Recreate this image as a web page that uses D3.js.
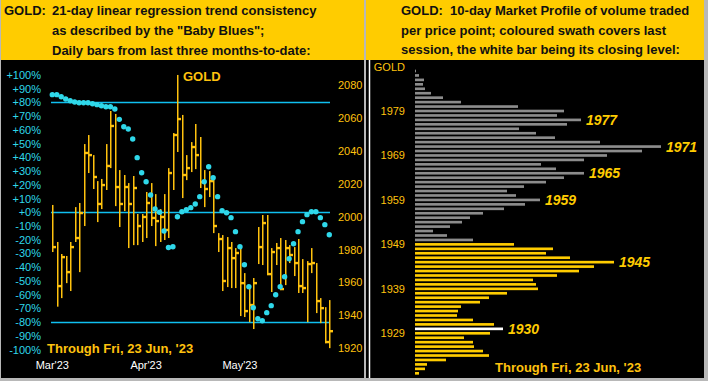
<!DOCTYPE html>
<html>
<head>
<meta charset="utf-8">
<script src="https://cdn.jsdelivr.net/npm/d3@7"></script>
<style>
  body { margin: 0; background: #b8b8b8; }
  svg { display: block; }
  text { font-family: "Liberation Sans", Arial, sans-serif; }
</style>
</head>
<body>
<div id="chart"></div>
<script>
// left: daily bars (high / low / close) for the last ~3 months
let barHigh = [2007.1,1984.6,1977.3,1976.1,1984.6,2005.8,2008.3,2044.1,2049.6,2037.4,
  2021.6,2022.9,2044.1,2064.2,2062.4,2028.3,2025.3,2020.4,2024.7,2001.6,
  2001.6,2015.0,2020.4,2013.7,2004.6,2013.7,2029.5,2050.8,2086.1,2061.8,
  2037.4,2045.3,2056.3,2048.4,2028.3,2027.7,2023.5,1990.0,1988.8,1987.6,
  1984.6,1980.9,1982.1,1965.7,1958.4,1962.7,1993.7,2001.0,2001.0,1980.9,
  1984.0,1987.0,1985.8,1982.7,1981.5,1986.4,1974.2,1973.0,1980.9,1971.8,
  1950.5,1945.0,1949.3]
let barLow = [1978.5,1945.3,1950.5,1959.6,1954.8,1984.6,1966.3,1994.3,2026.5,2016.8,
  1996.7,2004.6,2016.2,2029.5,2006.4,1993.7,2003.4,1980.9,1982.7,1982.7,
  1984.6,1987.0,1994.3,1982.1,1984.6,1985.8,1987.0,2016.2,2039.3,2011.3,
  2022.2,2027.1,2028.9,2017.4,2005.8,2011.9,1990.0,1978.5,1954.8,1957.2,
  1956.6,1956.6,1939.6,1939.0,1935.9,1931.7,1971.2,1970.6,1964.5,1954.2,
  1970.6,1955.4,1958.4,1971.8,1963.9,1953.6,1953.6,1935.9,1965.7,1941.4,
  1935.3,1923.1,1920.1]
let barClose = [1981.5,1957.8,1975.4,1966.3,1981.5,1987.0,2002.2,2038.7,2037.4,2024.1,
  2007.7,2019.2,2030.8,2055.1,2018.0,2007.7,2018.0,2007.7,2017.4,1994.3,
  1999.8,2008.3,1999.2,1997.3,1999.8,1991.9,2026.5,2049.6,2059.3,2025.3,
  2029.5,2042.3,2037.4,2021.0,2016.8,2021.6,1994.3,1986.4,1960.9,1980.9,
  1974.8,1977.9,1959.6,1942.6,1946.3,1959.6,1981.5,1996.1,1965.1,1978.5,
  1980.9,1956.0,1980.9,1976.7,1971.8,1957.8,1956.6,1971.2,1971.8,1948.7,
  1944.4,1923.8,1930.4]
// "Baby Blues" trend consistency, in %
let babyBlues = [85.7,85.7,84.2,82.5,81.3,80.3,79.8,79.8,79.8,79.1,
  78.4,77.6,76.9,76.9,75.2,67.7,62.3,60.7,53.4,39.8,
  28.8,22.3,12.6,2.4,0,-13.6,-25.6,-25.1,-3.2,0.4,
  1.9,3.4,6,11.4,22.3,33.2,25.2,11.4,1.2,-0.3,
  -3.9,-14.1,-25.1,-38.2,-54.2,-69.5,-77.5,-79,-73.1,-68,
  -60,-54.2,-46.9,-33.8,-22.9,-14.1,-6.8,-1.7,0.4,0.4,
  -3.9,-9,-16.3]
let monthLabels = ["Mar'23", "Apr'23", "May'23"]
let monthBars = [0, 21, 42]
let pctTicks = [100,90,80,70,60,50,40,30,20,10,0,-10,-20,-30,-40,-50,-60,-70,-80,-90,-100]
let priceTicks = [2080,2060,2040,2020,2000,1980,1960,1940,1920]
let pctLines = [80, 0, -80]

// right: 10-day market profile
let profilePrice = [1988,1987,1986,1985,1984,1983,1982,1981,1980,1979,1978,1977,1976,1975,1974,
  1973,1972,1971,1970,1969,1968,1967,1966,1965,1964,1963,1962,1961,1960,1959,
  1958,1957,1956,1955,1954,1953,1952,1951,1950,1949,1948,1947,1946,1945,1944,
  1943,1942,1941,1940,1939,1938,1937,1936,1935,1934,1933,1932,1931,1930,1929,
  1928,1927,1926,1925,1924,1923,1922,1921,1920]
let profileVolume = [1,4,9,8,10,16,28,46,103,149,142,166,152,104,121,
  140,185,246,227,192,169,126,141,169,149,131,109,92,101,125,
  110,89,68,55,47,35,18,32,58,99,138,131,155,199,179,
  164,142,118,121,123,92,74,65,46,43,42,58,79,88,75,
  49,58,59,68,74,31,12,10,4]
let sessionHigh = 1949
let sessionLow = 1920
let lastClose = 1930
let profileTicks = [1979,1969,1959,1949,1939,1929]
let profilePeaks = [1977,1971,1965,1959,1945,1930]

let W = 708, H = 381
let yellow = '#ffcc00', gold = '#ffc20e', cyan = '#2fd8ea', blueLine = '#10bff0'

let svg = d3.select('#chart').append('svg')
  .attr('width', W).attr('height', H)

// panels
svg.append('rect').attr('x', 1).attr('y', 0).attr('width', 363).attr('height', 378).attr('fill', '#000')
svg.append('rect').attr('x', 366).attr('y', 0).attr('width', 338).attr('height', 378).attr('fill', '#000')
svg.append('rect').attr('x', 1).attr('y', 0).attr('width', 363).attr('height', 60).attr('fill', yellow)
svg.append('rect').attr('x', 366).attr('y', 0).attr('width', 338).attr('height', 60).attr('fill', yellow)

// headers
function header(x0, x1, lines) {
  lines.forEach(function(l) {
    svg.append('text').attr('x', l[0] == 0 ? x0 : x1).attr('y', l[1])
      .attr('font-size', '13px').attr('font-weight', 'bold').attr('fill', '#111')
      .attr('xml:space', 'preserve')
      .text(l[2])
  })
}
header(4, 52, [
  [0, 15, 'GOLD:'],
  [1, 15, '21-day linear regression trend consistency'],
  [1, 34.5, 'as described by the "Baby Blues";'],
  [1, 54.5, 'Daily bars from last three months-to-date:']
])
header(401, 401, [
  [0, 15, 'GOLD:  10-day Market Profile of volume traded'],
  [0, 34.5, 'per price point; coloured swath covers last'],
  [0, 54, 'session, the white bar being its closing level:']
])

// ---------- left chart ----------
let x = d3.scalePoint().domain(d3.range(barClose.length)).range([52.3, 329.3])
let yPct = d3.scaleLinear().domain([-100, 100]).range([349.6, 75])
let yPrice = d3.scaleLinear().domain([1920, 2080]).range([348.3, 85])

let left = svg.append('g')

left.selectAll('.pctline').data(pctLines).enter().append('line')
  .attr('x1', 51).attr('x2', 330)
  .attr('y1', function(d) { return Math.round(yPct(d)) + 0.5 })
  .attr('y2', function(d) { return Math.round(yPct(d)) + 0.5 })
  .attr('stroke', blueLine).attr('stroke-width', 1.3)

left.selectAll('.pct').data(pctTicks).enter().append('text')
  .attr('x', 41).attr('y', function(d) { return yPct(d) + 4 })
  .attr('text-anchor', 'end').attr('font-size', '11px').attr('fill', cyan)
  .text(function(d) { return (d >= 0 ? '+' : '') + d + '%' })

left.selectAll('.price').data(priceTicks).enter().append('text')
  .attr('x', 338).attr('y', function(d) { return yPrice(d) + 4 })
  .attr('font-size', '11px').attr('fill', gold)
  .text(function(d) { return d })

left.selectAll('.month').data(monthBars).enter().append('text')
  .attr('x', function(d) { return x(d) }).attr('y', 369)
  .attr('text-anchor', 'middle').attr('font-size', '11px').attr('fill', '#fff')
  .text(function(d, i) { return monthLabels[i] })

// bars: high-low line with close tick on the right
let bars = left.selectAll('.bar').data(barClose).enter().append('g')
bars.append('rect')
  .attr('x', function(d, i) { return Math.round(x(i)) })
  .attr('y', function(d, i) { return yPrice(barHigh[i]) })
  .attr('width', 1.5)
  .attr('height', function(d, i) { return yPrice(barLow[i]) - yPrice(barHigh[i]) })
  .attr('fill', gold)
bars.append('rect')
  .attr('x', function(d, i) { return Math.round(x(i)) })
  .attr('y', function(d) { return yPrice(d) - 1.2 })
  .attr('width', 4).attr('height', 2.4)
  .attr('fill', gold)

// baby blues dots
left.selectAll('.bb').data(babyBlues).enter().append('circle')
  .attr('cx', function(d, i) { return x(i) })
  .attr('cy', function(d) { return yPct(d) })
  .attr('r', 2.7).attr('fill', cyan)

left.append('text').attr('x', 183).attr('y', 81)
  .attr('font-size', '13px').attr('font-weight', 'bold').attr('fill', gold)
  .text('GOLD')
left.append('text').attr('x', 47).attr('y', 353)
  .attr('font-size', '13px').attr('font-weight', 'bold').attr('fill', gold)
  .text("Through Fri, 23 Jun, '23")

// ---------- right chart ----------
let right = svg.append('g')
let yVol = d3.scaleBand().domain(profilePrice).range([71 - 2.223, 373.3 + 2.223]).paddingInner(0.4).paddingOuter(0.2)
let xVol = d3.scaleLinear().domain([0, 250]).range([415, 665])

right.append('line').attr('x1', 369.5).attr('x2', 369.5).attr('y1', 60).attr('y2', 378)
  .attr('stroke', '#fff').attr('stroke-width', 1.5)

right.append('text').attr('x', 405).attr('y', 71)
  .attr('text-anchor', 'end').attr('font-size', '11px').attr('fill', gold)
  .text('GOLD')

right.selectAll('.ptick').data(profileTicks).enter().append('text')
  .attr('x', 405).attr('y', function(d) { return yVol(d) + yVol.bandwidth() / 2 + 4 })
  .attr('text-anchor', 'end').attr('font-size', '11px').attr('fill', gold)
  .text(function(d) { return d })

right.selectAll('.vol').data(profilePrice).enter().append('rect')
  .attr('x', xVol(0))
  .attr('y', function(d) { return yVol(d) })
  .attr('height', yVol.bandwidth())
  .attr('width', function(d, i) { return xVol(profileVolume[i]) - xVol(0) })
  .attr('fill', function(d) {
    if (d == lastClose) return '#fff'
    if (d >= sessionLow && d <= sessionHigh) return yellow
    return '#8c8c8c'
  })

right.selectAll('.peak').data(profilePeaks).enter().append('text')
  .attr('x', function(d) { return xVol(profileVolume[profilePrice.indexOf(d)]) + 5 })
  .attr('y', function(d) { return yVol(d) + yVol.bandwidth() / 2 + 5 })
  .attr('font-size', '14px').attr('font-weight', 'bold').attr('font-style', 'italic')
  .attr('fill', yellow)
  .text(function(d) { return d })

right.append('text').attr('x', 495).attr('y', 372)
  .attr('font-size', '13px').attr('font-weight', 'bold').attr('fill', gold)
  .text("Through Fri, 23 Jun, '23")
</script>
</body>
</html>
